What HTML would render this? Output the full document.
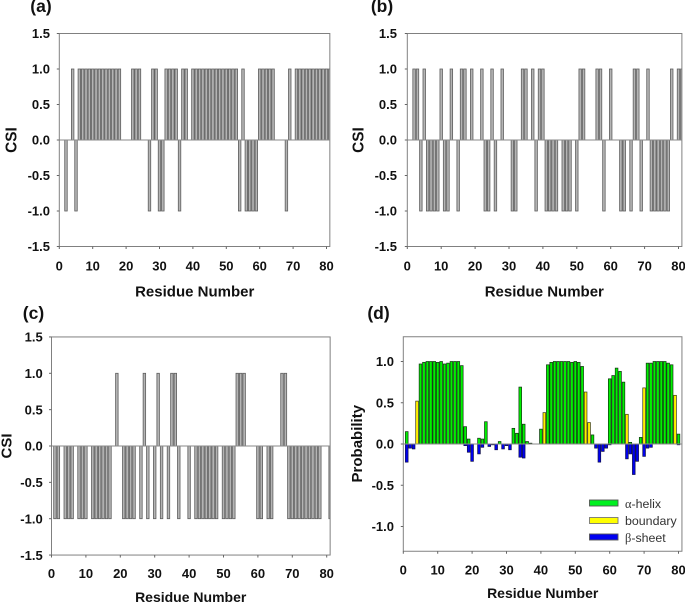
<!DOCTYPE html>
<html lang="en">
<head>
<meta charset="utf-8">
<title>CSI and secondary structure probability</title>
<style>
html,body{margin:0;padding:0;background:#fff;width:685px;height:603px;overflow:hidden}
svg{display:block;filter:blur(0.35px)}
text{font-family:"Liberation Sans",sans-serif;fill:#111}
.b{font-weight:bold}
</style>
</head>
<body>
<svg id="figure" xmlns="http://www.w3.org/2000/svg" width="685" height="603" viewBox="0 0 685 603">
  <g id="panel-a"></g>
  <g id="panel-b"></g>
  <g id="panel-c"></g>
  <g id="panel-d"></g>

  <text class="b" x="41" y="12" font-size="17.5" text-anchor="middle">(a)</text>
  <text class="b" x="382" y="12" font-size="17.5" text-anchor="middle">(b)</text>
  <text class="b" x="33.5" y="319" font-size="17.5" text-anchor="middle">(c)</text>
  <text class="b" x="378.5" y="319" font-size="17.5" text-anchor="middle">(d)</text>

  <text class="b" x="194.7" y="296.5" font-size="15" text-anchor="middle">Residue Number</text>
  <text class="b" x="544.3" y="296.5" font-size="15" text-anchor="middle">Residue Number</text>
  <text class="b" x="190.7" y="602" font-size="14" text-anchor="middle">Residue Number</text>
  <text class="b" x="542.7" y="598" font-size="14" text-anchor="middle">Residue Number</text>

  <text class="b" transform="translate(16.5 140) rotate(-90)" font-size="15.4" text-anchor="middle">CSI</text>
  <text class="b" transform="translate(363.5 140) rotate(-90)" font-size="15.4" text-anchor="middle">CSI</text>
  <text class="b" transform="translate(11.5 446) rotate(-90)" font-size="15" text-anchor="middle">CSI</text>
  <text class="b" transform="translate(362 443.7) rotate(-90)" font-size="15" text-anchor="middle">Probability</text>

  <g>
    <g>
      <rect x="589.5" y="500" width="28.5" height="6" fill="#00f020" stroke="#555" stroke-width="0.9"/>
      <text x="625" y="508" font-size="12.4" style="fill:#333"><tspan font-family="Liberation Serif, serif">α</tspan>-helix</text>
    </g>
    <g>
      <rect x="589.5" y="517.5" width="28.5" height="6" fill="#ffff00" stroke="#777" stroke-width="0.9"/>
      <text x="625" y="525" font-size="12.4" style="fill:#333">boundary</text>
    </g>
    <g>
      <rect x="589.5" y="534" width="28.5" height="6" fill="#0000f0" stroke="#555" stroke-width="0.9"/>
      <text x="625" y="542" font-size="12.4" style="fill:#333"><tspan font-family="Liberation Serif, serif">β</tspan>-sheet</text>
    </g>
  </g>
</svg>
<script>
const csiA = [0,-1,0,1,-1,1,1,1,1,1,1,1,1,1,1,1,1,1,0,0,0,1,1,1,0,0,-1,1,1,-1,-1,1,1,1,1,-1,1,1,0,1,1,1,1,1,1,1,1,1,1,1,1,1,1,-1,1,-1,-1,-1,-1,1,1,1,1,1,0,0,0,-1,1,0,1,1,1,1,1,1,1,1,1,1,1];
const csiB = [0,1,1,-1,1,-1,-1,-1,-1,1,-1,-1,1,0,-1,1,1,0,1,0,0,1,-1,-1,1,-1,0,1,0,0,-1,-1,0,1,1,0,1,-1,1,1,-1,-1,-1,-1,0,-1,-1,-1,0,-1,1,1,0,0,0,1,1,-1,0,1,0,0,-1,-1,0,-1,1,1,-1,0,1,-1,-1,-1,-1,-1,-1,1,0,1,1];
const csiC = [-1,-1,0,-1,-1,-1,0,-1,-1,-1,0,-1,-1,-1,-1,-1,-1,0,1,0,-1,-1,-1,-1,0,-1,1,-1,0,-1,1,-1,0,-1,1,1,-1,0,0,-1,0,-1,-1,-1,-1,-1,-1,-1,0,-1,-1,-1,-1,1,1,1,0,0,0,-1,-1,0,-1,-1,0,0,1,1,-1,-1,-1,-1,-1,-1,-1,-1,-1,-1,0,0,-1];
const helixProb = [0.15,0,0,0,0.97,0.99,1,1,1,0.99,1,0.97,0.98,1,1,1,0.95,0.21,0.06,0,0,0.07,0.06,0.27,0,0,0,0.03,0,0,0,0.19,0.13,0.69,0.24,0.03,0.01,0,0,0.18,0,0.96,0.99,1,1,1,1,1,0.99,1,0.99,0.94,0,0,0.11,0,0,0,0,0.79,0.83,0.92,0.88,0.75,0,0.02,0,0,0.08,0,0.98,0.98,1,1,1,1,0.98,0.96,0,0.12,0];
const boundaryProb = [0,0,0,0.52,0,0,0,0,0,0,0,0,0,0,0,0,0,0,0,0,0,0,0,0,0,0,0,0,0,0,0,0,0,0,0,0,0,0,0,0,0.38,0,0,0,0,0,0,0,0,0,0,0,0.63,0.26,0,0,0,0,0,0,0,0,0,0,0.36,0,0,0,0,0.68,0,0,0,0,0,0,0,0,0.59,0,0];
const sheetProb = [-0.22,-0.05,-0.06,0,0,0,0,0,0,0,0,0,0,0,0,0,0,-0.02,-0.10,-0.21,0,-0.12,-0.04,0,-0.03,-0.01,-0.07,0,-0.06,-0.02,-0.07,0,0,-0.16,-0.17,0,0,0,0,0,0,0,0,0,0,0,0,0,0,0,0,0,0,0,0,-0.05,-0.22,-0.09,-0.05,-0.01,0,0,0,0,-0.18,-0.12,-0.37,-0.21,0,-0.15,-0.05,-0.04,0,0,0,0,0,0,0,-0.01,0];
const csiTicks = [1.5,1.0,0.5,0.0,-0.5,-1.0,-1.5];
const probTicks = [1.0,0.5,0.0,-0.5,-1.0];
const residueTicks = [0,10,20,30,40,50,60,70,80];

const NS = 'http://www.w3.org/2000/svg';
function mk(parent, tag, attrs) {
  const el = document.createElementNS(NS, tag);
  for (const k in attrs) el.setAttribute(k, attrs[k]);
  parent.appendChild(el);
  return el;
}

function makeAxes(cfg) {
  const g = document.getElementById(cfg.id);
  const xScale = v => cfg.x0 + cfg.xUnit * v;
  const yScale = v => cfg.y0 - cfg.yUnit * v;
  const left = xScale(0), right = xScale(81);
  const top = yScale(cfg.yMax), bottom = yScale(-cfg.yMax);
  const clipId = cfg.id + '-clip';
  const clip = mk(g, 'clipPath', { id: clipId });
  mk(clip, 'rect', { x: left, y: top - 1, width: right - left, height: bottom - top + 2 });
  const marks = mk(g, 'g', { 'clip-path': 'url(#' + clipId + ')' });
  
  
  const frame = mk(g, 'rect', { x: left, y: top, width: right - left, height: bottom - top, fill: 'none', stroke: '#808080', 'stroke-width': 1 });
  
  
  const zero = mk(g, 'line', { x1: left, x2: right, y1: yScale(0), y2: yScale(0), stroke: '#8a8a8a', 'stroke-width': 1 });
  
  

  cfg.yTicks.forEach(v => {
    const t = mk(g, 'line', { x1: left - 2.5, x2: left, y1: yScale(v), y2: yScale(v), stroke: '#666', 'stroke-width': 1 });
    
    
    const l = mk(g, 'text', { x: cfg.yLabelX, y: yScale(v) + 4.7, 'text-anchor': 'end', 'font-size': 13, 'font-weight': 'bold' });
    
    
    l.textContent = v.toFixed(1);
  });
  residueTicks.forEach(v => {
    const t = mk(g, 'line', { x1: xScale(v), x2: xScale(v), y1: bottom, y2: bottom + 2.5, stroke: '#666', 'stroke-width': 1 });
    
    
    const l = mk(g, 'text', { x: xScale(v), y: cfg.xLabelY, 'text-anchor': 'middle', 'font-size': 13, 'font-weight': 'bold' });
    
    
    l.textContent = String(v);
  });
  return { marks, xScale, yScale };
}

function drawBars(axes, values, width, fill, stroke, strokeWidth, name) {
  values.forEach((v, i) => {
    if (v === 0) return;
    const y1 = axes.yScale(v), y2 = axes.yScale(0);
    const r = mk(axes.marks, 'rect', {
      x: axes.xScale(i + 1) - width / 2,
      y: Math.min(y1, y2),
      width: width,
      height: Math.abs(y2 - y1),
      fill: fill,
      stroke: stroke,
      'stroke-width': strokeWidth
    });
    
    
  });
}

const axesA = makeAxes({ id: 'panel-a', x0: 59.3, xUnit: 3.34, y0: 140, yUnit: 71, yMax: 1.5, yTicks: csiTicks, yLabelX: 50, xLabelY: 270.5 });
drawBars(axesA, csiA, 2.5, '#b4b4b4', '#5e5e5e', 0.8, 'csi-bar');
const axesB = makeAxes({ id: 'panel-b', x0: 407.3, xUnit: 3.39, y0: 140, yUnit: 71, yMax: 1.5, yTicks: csiTicks, yLabelX: 397, xLabelY: 270.5 });
drawBars(axesB, csiB, 2.5, '#b4b4b4', '#5e5e5e', 0.8, 'csi-bar');
const axesC = makeAxes({ id: 'panel-c', x0: 51.5, xUnit: 3.44, y0: 446, yUnit: 72.7, yMax: 1.5, yTicks: csiTicks, yLabelX: 42.7, xLabelY: 578 });
drawBars(axesC, csiC, 2.5, '#b4b4b4', '#5e5e5e', 0.8, 'csi-bar');
const axesD = makeAxes({ id: 'panel-d', x0: 403.3, xUnit: 3.44, y0: 444, yUnit: 82.5, yMax: 1.3, yTicks: probTicks, yLabelX: 394, xLabelY: 574.5 });
drawBars(axesD, helixProb, 2.7, '#00f000', '#123012', 0.7, 'helix-bar');
drawBars(axesD, boundaryProb, 2.7, '#fff000', '#3a3a10', 0.7, 'boundary-bar');
drawBars(axesD, sheetProb, 2.7, '#0000f0', '#10104a', 0.7, 'sheet-bar');
</script>
</body>
</html>
